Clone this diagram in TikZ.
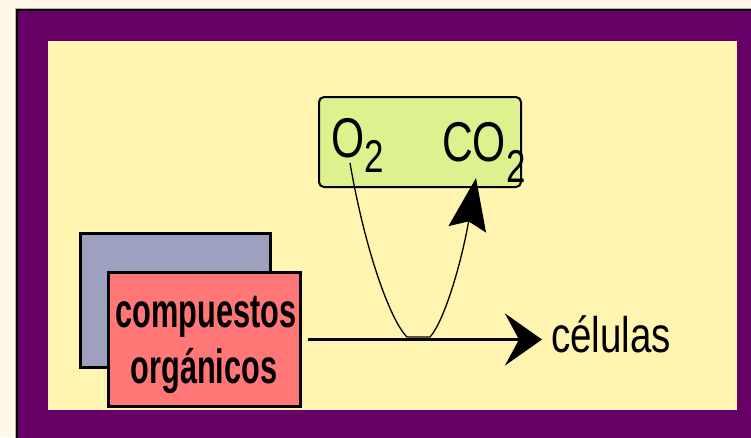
\documentclass[tikz,border=0pt]{standalone}
\usepackage{fontspec}
\setmainfont{Liberation Sans}
\usetikzlibrary{arrows.meta}
\definecolor{creambg}{RGB}{255,247,231}
\definecolor{framepurple}{RGB}{102,0,102}
\definecolor{paleyellow}{RGB}{255,244,176}
\definecolor{gasgreen}{RGB}{221,242,143}
\definecolor{slategrey}{RGB}{158,160,191}
\definecolor{salmonred}{RGB}{255,119,119}
\begin{document}
\begin{tikzpicture}[x=1pt,y=-1pt,
  greybox/.style={draw=black, fill=slategrey, line width=3pt, minimum width=190pt, minimum height=134pt, inner sep=0pt},
  redbox/.style={draw=black, fill=salmonred, line width=3pt, minimum width=192pt, minimum height=134pt, inner sep=0pt},
  gasbox/.style={draw=black, fill=gasgreen, line width=2pt, rounded corners=5pt, minimum width=202pt, minimum height=90pt, inner sep=0pt},
  boldtxt/.style={anchor=base, inner sep=0pt, font=\fontsize{48}{48}\bfseries\selectfont},
  thintxt/.style={anchor=base west, inner sep=0pt, font=\fontsize{50}{50}\selectfont},
  gastxt/.style={anchor=base west, inner sep=0pt, font=\fontsize{56}{56}\selectfont},
  mainarrow/.style={line width=3pt, -{Stealth[length=37pt,width=52pt,inset=14pt]}},
  thinarrow/.style={line width=1.3pt, -{Stealth[length=52pt,width=38pt,inset=8pt]}}
]
\useasboundingbox (0,0) rectangle (751,437);
\clip (0,0) rectangle (751,437);
\fill[creambg] (0,0) rectangle (751,437);
\fill[black!30] (15,8) rectangle (770,460);
\filldraw[fill=framepurple, draw=black, line width=1.5pt] (16.75,9.75) rectangle (770,460);
\fill[paleyellow] (48,41) rectangle (737,410);

\node[greybox] (grey) at (175.5,300.5) {};
\node[redbox] (red) at (204.5,339.5) {};
\node[boldtxt] (txtone) at (206,327) {\scalebox{0.64}[1]{compuestos}};
\node[boldtxt] (txttwo) at (204,383) {\scalebox{0.64}[1]{orgánicos}};

\node[gasbox] (gas) at (420,142) {};
\node[gastxt] (otwo) at (331,157) {\scalebox{0.76}[1]{O\raisebox{-15pt}{\fontsize{46}{46}\selectfont 2}}};
\node[gastxt] (cotwo) at (442,161) {\scalebox{0.76}[1]{CO\raisebox{-21pt}{\fontsize{46}{46}\selectfont 2}}};

\node[thintxt] (celulas) at (551,352) {\scalebox{0.77}[1]{células}};

\draw[mainarrow] ([xshift=6pt]red.east) -- ([xshift=-9pt]celulas.west |- red.east);

\draw[thinarrow] ([shift={(19,6)}]otwo.base west)
  .. controls (365,250) and (390,320) .. (407,337)
  -- (430,337)
  .. controls (445,320) and (462,260) .. ([shift={(34,17)}]cotwo.base west);
\end{tikzpicture}
\end{document}
